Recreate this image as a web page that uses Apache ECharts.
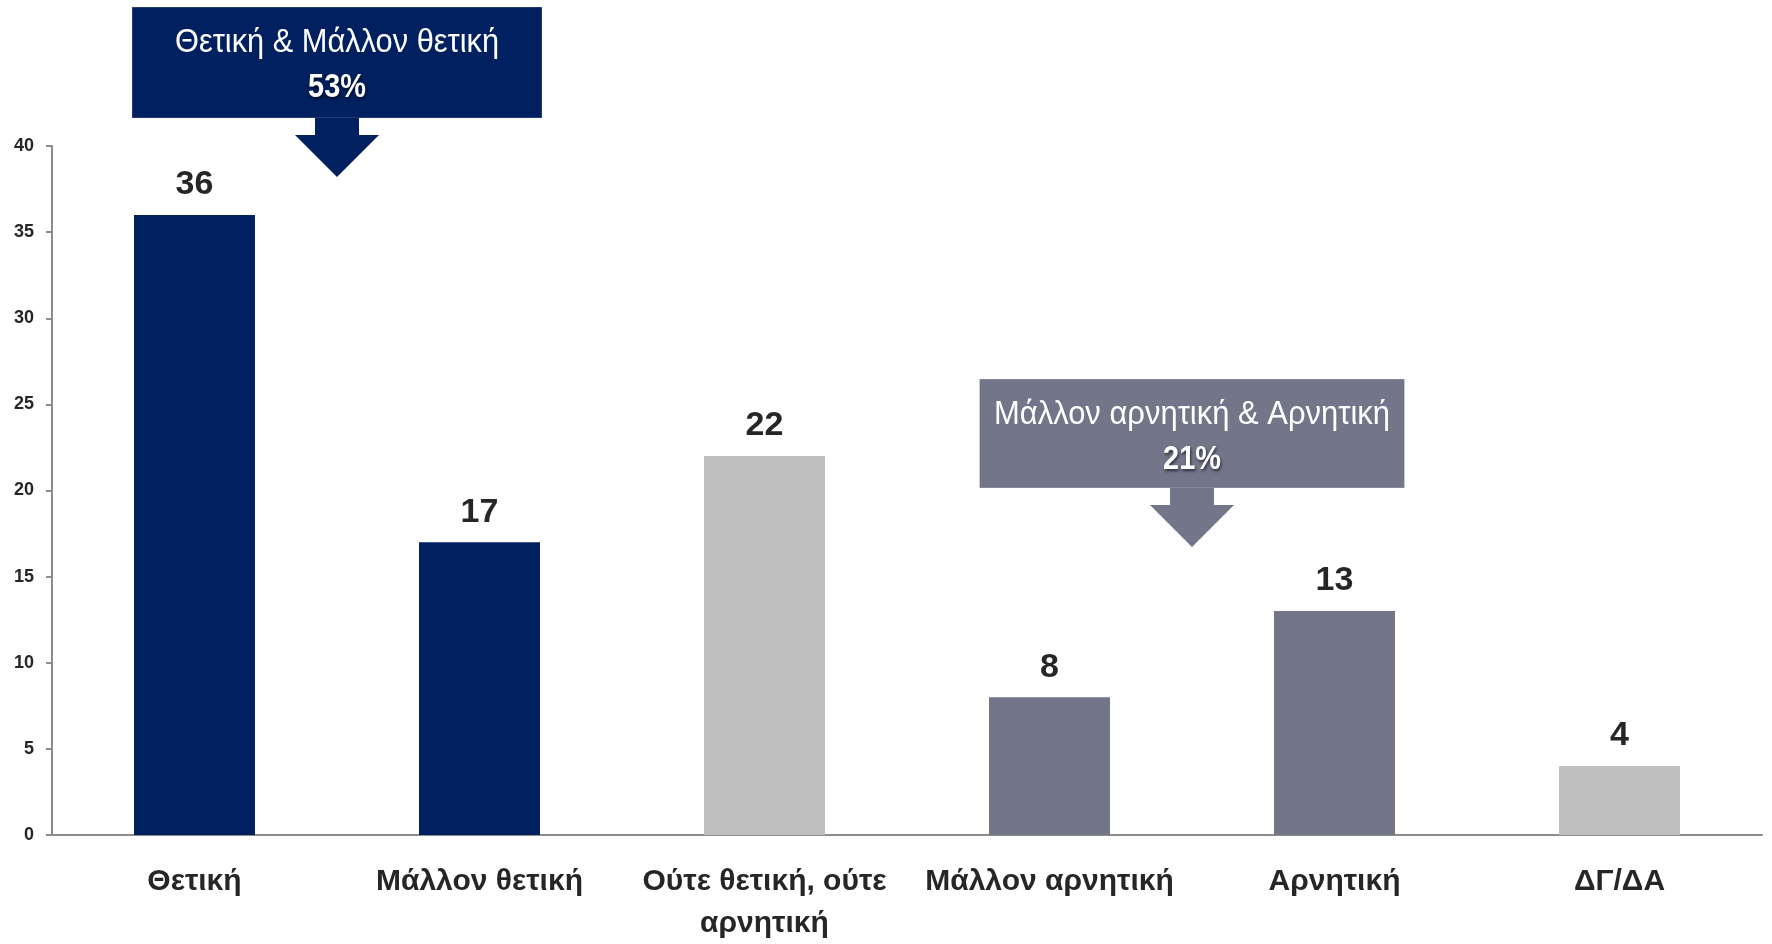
<!DOCTYPE html>
<html>
<head>
<meta charset="utf-8">
<script src="https://cdn.jsdelivr.net/npm/echarts@6/dist/echarts.min.js"></script>
<style>
  html, body { margin: 0; padding: 0; background: #fff; }
  #chart { width: 1772px; height: 944px; }
</style>
</head>
<body>
<div id="chart"></div>
<script>
// δεδομένα
const categories = ['Θετική', 'Μάλλον θετική', 'Ούτε θετική, ούτε αρνητική', 'Μάλλον αρνητική', 'Αρνητική', 'ΔΓ/ΔΑ'];
const values = [36, 17, 22, 8, 13, 4];
const yTicks = [0, 5, 10, 15, 20, 25, 30, 35, 40];
// ομαδοποιήσεις (πλαίσια με βέλος)
const groupTitles = ['Θετική & Μάλλον θετική', 'Μάλλον αρνητική & Αρνητική'];
const groupTotals = ['53%', '21%'];
const groupFrom = [0, 3];
const groupTo = [1, 4];

// στυλ
const NAVY = '#002060';
const SLATE = '#737589';
const GREY = '#bfbfbf';
const barColors = [NAVY, NAVY, GREY, SLATE, SLATE, GREY];
const boxColors = [NAVY, SLATE];
const FONT = "'Liberation Sans', Arial, sans-serif";

const chart = echarts.init(document.getElementById('chart'));

const option = {
  animation: false,
  grid: { left: 52, right: 10, top: 146, bottom: 109, containLabel: false, outerBoundsMode: 'none' },
  xAxis: {
    type: 'category',
    data: categories,
    axisLine: { lineStyle: { color: '#8c8c8c', width: 2 } },
    axisTick: { length: 12, lineStyle: { color: '#8c8c8c', width: 2 } },
    axisLabel: {
      interval: 0,
      color: '#262626',
      fontFamily: FONT,
      fontWeight: 'bold',
      fontSize: 30,
      lineHeight: 42,
      margin: 26,
      // μεγάλες ετικέτες σε δύο γραμμές (σπάσιμο πριν την τελευταία λέξη)
      formatter: (s) => (s.length > 20 ? s.replace(/ (\S+)$/, '\n$1') : s)
    }
  },
  yAxis: {
    type: 'value',
    min: yTicks[0],
    max: yTicks[yTicks.length - 1],
    interval: 5,
    splitLine: { show: false },
    axisLine: { show: true, lineStyle: { color: '#8c8c8c', width: 2 } },
    axisTick: { show: true, length: 6, lineStyle: { color: '#8c8c8c', width: 2 } },
    axisLabel: {
      color: '#262626',
      fontFamily: FONT,
      fontWeight: 'bold',
      fontSize: 18,
      margin: 18
    }
  },
  series: [
    {
      type: 'bar',
      barWidth: 121,
      data: values.map((v, i) => ({ value: v, itemStyle: { color: barColors[i] } })),
      label: {
        show: true,
        position: 'top',
        distance: 13,
        color: '#262626',
        fontFamily: FONT,
        fontWeight: 'bold',
        fontSize: 34
      }
    }
  ]
};
chart.setOption(option);

// στενή γραμματοσειρά: συμπίεση οριζόντια ώστε να ταιριάζει στο πλάτος
const ctx = document.createElement('canvas').getContext('2d');
function fitScale(text, font, target) {
  ctx.font = font;
  return Math.min(1, target / ctx.measureText(text).width);
}

// πλαίσια + βέλη, τοποθετημένα πάνω στα όρια κατηγοριών
const boxTop = [7, 379];
const boxH = [111, 109];
const boxW = [410, 425];
const titleW = [324, 396];
const graphics = [];
groupTitles.forEach((title, g) => {
  const a = chart.convertToPixel({ xAxisIndex: 0 }, groupFrom[g]);
  const b = chart.convertToPixel({ xAxisIndex: 0 }, groupTo[g]);
  const cx = (a + b) / 2;
  const top = boxTop[g];
  const bottom = top + boxH[g];
  const col = boxColors[g];
  graphics.push({
    type: 'rect',
    shape: { x: cx - boxW[g] / 2, y: top, width: boxW[g], height: boxH[g] },
    style: { fill: col, stroke: 'rgba(255,255,255,0.25)', lineWidth: 1 }
  });
  graphics.push({
    type: 'text',
    x: cx, y: top + 36,
    scaleX: fitScale(title, "34px 'Liberation Sans'", titleW[g]),
    style: {
      text: title, fill: '#fff', fontFamily: FONT, fontSize: 34,
      align: 'center', verticalAlign: 'middle'
    }
  });
  graphics.push({
    type: 'text',
    x: cx, y: top + 81,
    scaleX: 0.85,
    style: {
      text: groupTotals[g], fill: '#fff', fontFamily: FONT, fontSize: 34, fontWeight: 'bold',
      align: 'center', verticalAlign: 'middle',
      textShadowColor: 'rgba(0,0,0,0.6)', textShadowBlur: 3, textShadowOffsetX: 1, textShadowOffsetY: 2
    }
  });
  // βέλος
  const sw = 22, hw = 42, sh = 17, hh = 42;
  graphics.push({
    type: 'polygon',
    shape: {
      points: [
        [cx - sw, bottom], [cx + sw, bottom], [cx + sw, bottom + sh], [cx + hw, bottom + sh],
        [cx, bottom + sh + hh], [cx - hw, bottom + sh], [cx - sw, bottom + sh]
      ]
    },
    style: { fill: col }
  });
});
chart.setOption({ graphic: graphics });
</script>
</body>
</html>
